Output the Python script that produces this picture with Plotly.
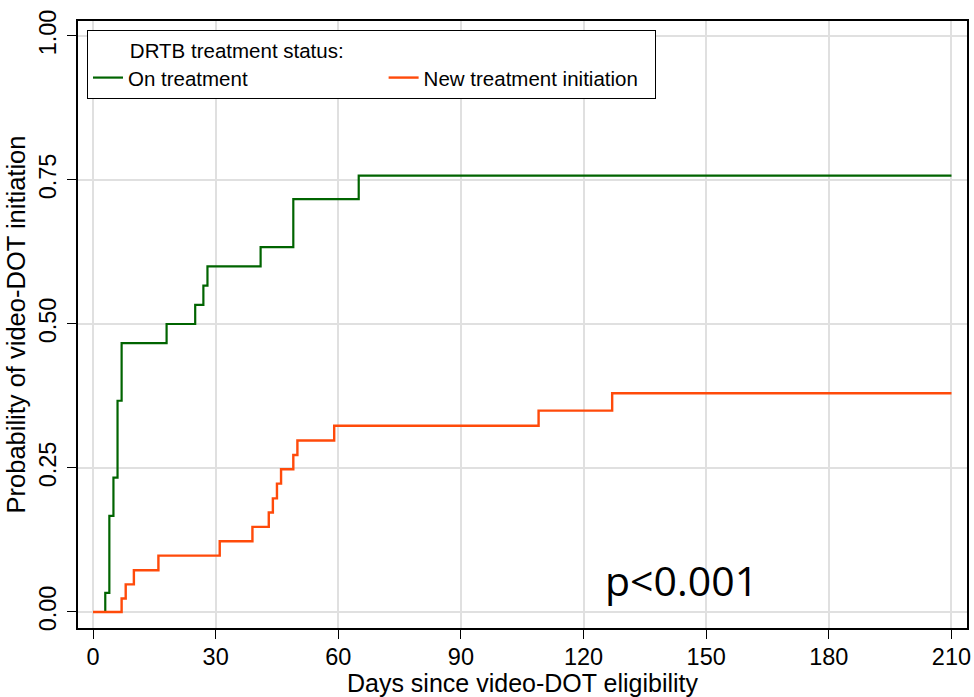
import plotly.graph_objects as go

# Kaplan-Meier style cumulative probability of video-DOT initiation
days_on = [0, 3, 4, 5, 6, 7, 18, 25, 27, 28, 41, 49, 65, 210]
prob_on = [0, 0.0333, 0.1667, 0.2333, 0.3667, 0.4667, 0.5, 0.5333,
           0.5667, 0.6, 0.6333, 0.7167, 0.7575, 0.7575]

days_new = [0, 7, 8, 10, 16, 31, 39, 43, 44, 45, 46, 49, 50, 59, 109, 127, 210]
prob_new = [0, 0.0235, 0.048, 0.0725, 0.0978, 0.1228, 0.1478, 0.1727,
            0.1972, 0.2228, 0.2477, 0.2726, 0.2977, 0.3232, 0.3495,
            0.3797, 0.3797]

x_ticks = [0, 30, 60, 90, 120, 150, 180, 210]
y_ticks = [0, 0.25, 0.5, 0.75, 1.0]
y_tick_labels = ["0.00", "0.25", "0.50", "0.75", "1.00"]

FONT = "Liberation Sans, Arial, sans-serif"
GREEN = "#006400"
ORANGE = "#FF4A0A"
GRID = "#e0e0e0"
NB = "&nbsp;"

fig = go.Figure()
fig.add_trace(go.Scatter(
    x=days_on, y=prob_on, mode="lines", line_shape="hv",
    line=dict(color=GREEN, width=2.2),
    name="On treatment" + NB * 23,
))
fig.add_trace(go.Scatter(
    x=days_new, y=prob_new, mode="lines", line_shape="hv",
    line=dict(color=ORANGE, width=2.4),
    name="New treatment initiation" + NB * 2,
))

fig.add_annotation(
    x=144, y=0.055, xref="x", yref="y", text="p<0.001", showarrow=False,
    font=dict(family="Open Sans, sans-serif", size=41, color="black"),
    xanchor="center", yanchor="middle",
)

fig.update_layout(
    width=974, height=697,
    margin=dict(l=78, r=7, t=21, b=69),
    paper_bgcolor="white", plot_bgcolor="white",
    font=dict(family=FONT, size=20, color="black"),
    showlegend=True,
    legend=dict(
        orientation="h",
        x=0.0101, y=0.985, xanchor="left", yanchor="top",
        bordercolor="black", borderwidth=1, bgcolor="white",
        font=dict(family=FONT, size=20.5, color="black"),
        title=dict(text=NB * 7 + "DRTB treatment status:",
                   side="top", font=dict(family=FONT, size=20.5)),
        itemwidth=30, tracegroupgap=0,
    ),
    xaxis=dict(
        range=[-3.67, 213.8], tickvals=x_ticks,
        showgrid=True, gridcolor=GRID, gridwidth=2, zeroline=False,
        showline=True, linecolor="black", linewidth=1.5, mirror=True,
        ticks="outside", ticklen=9, tickwidth=1.3, tickcolor="black",
        tickfont=dict(family=FONT, size=23.5), ticklabelstandoff=-2,
        title=dict(text="Days since video-DOT eligibility", standoff=1,
                   font=dict(family=FONT, size=25)),
        automargin=False,
    ),
    yaxis=dict(
        range=[-0.0278, 1.026], tickvals=y_ticks, ticktext=y_tick_labels,
        tickangle=-90,
        showgrid=True, gridcolor=GRID, gridwidth=2, zeroline=False,
        showline=True, linecolor="black", linewidth=1.5, mirror=True,
        ticks="outside", ticklen=9, tickwidth=1.3, tickcolor="black",
        tickfont=dict(family=FONT, size=23.5), ticklabelstandoff=2,
        title=dict(text="Probability of video-DOT initiation", standoff=2,
                   font=dict(family=FONT, size=25.5)),
        automargin=False,
    ),
)

fig.write_html("out.html")
